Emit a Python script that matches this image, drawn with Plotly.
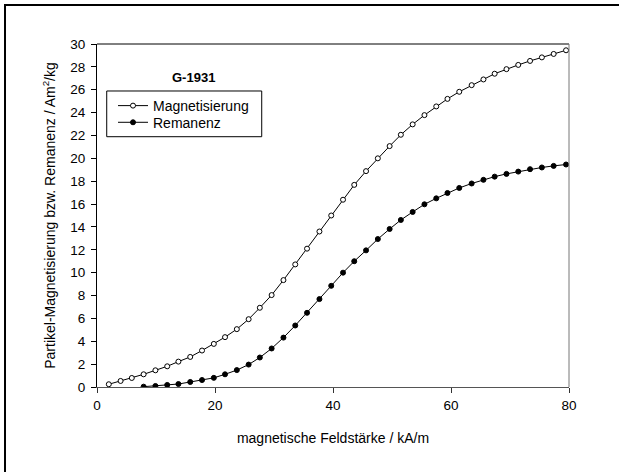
import plotly.graph_objects as go

# Field strength (kA/m) of the measured points
x_mag = [2.0, 4.0, 5.9, 7.9, 9.9, 11.9, 13.8, 15.8, 17.8, 19.8,
         21.7, 23.7, 25.7, 27.6, 29.6, 31.6, 33.6, 35.6, 37.7, 39.7,
         41.7, 43.6, 45.6, 47.6, 49.6, 51.5, 53.5, 55.5, 57.5, 59.4,
         61.4, 63.5, 65.5, 67.4, 69.4, 71.4, 73.4, 75.4, 77.4, 79.5]
y_mag = [0.24, 0.53, 0.79, 1.11, 1.46, 1.81, 2.22, 2.63, 3.19, 3.77,
         4.36, 5.06, 5.93, 6.93, 8.04, 9.35, 10.72, 12.1, 13.6, 15.0,
         16.38, 17.68, 18.88, 20.0, 21.07, 22.06, 22.97, 23.78, 24.54, 25.2,
         25.82, 26.4, 26.9, 27.4, 27.8, 28.17, 28.52, 28.83, 29.13, 29.45]

x_rem = [7.9, 9.9, 11.9, 13.8, 15.8, 17.8, 19.8,
         21.7, 23.7, 25.7, 27.6, 29.6, 31.6, 33.6, 35.6, 37.7, 39.7,
         41.7, 43.6, 45.6, 47.6, 49.6, 51.5, 53.5, 55.5, 57.5, 59.4,
         61.4, 63.5, 65.5, 67.4, 69.4, 71.4, 73.4, 75.4, 77.4, 79.5]
y_rem = [0.03, 0.09, 0.18, 0.26, 0.44, 0.61, 0.80,
         1.11, 1.48, 1.96, 2.58, 3.37, 4.32, 5.38, 6.49, 7.69, 8.85,
         10.0, 11.0, 11.95, 12.94, 13.82, 14.61, 15.31, 15.98, 16.5, 16.97,
         17.41, 17.8, 18.12, 18.4, 18.64, 18.84, 19.05, 19.2, 19.34, 19.46]

x_ticks = [0, 20, 40, 60, 80]
y_ticks = list(range(0, 31, 2))

FONT = "Liberation Sans, Arial, sans-serif"
LEG_FONT = dict(size=14)

fig = go.Figure()
fig.add_trace(go.Scatter(
    x=x_mag, y=y_mag, mode="lines+markers", name="Magnetisierung",
    legend="legend",
    line=dict(color="black", width=1),
    marker=dict(symbol="circle", size=5, color="white",
                line=dict(color="black", width=1)),
))
fig.add_trace(go.Scatter(
    x=x_rem, y=y_rem, mode="lines+markers", name="Remanenz",
    legend="legend2",
    line=dict(color="black", width=1),
    marker=dict(symbol="circle", size=5, color="black",
                line=dict(color="black", width=1)),
))

fig.update_layout(
    width=619, height=472,
    margin=dict(l=97, r=50, t=44, b=85, autoexpand=False),
    paper_bgcolor="white", plot_bgcolor="white",
    font=dict(family=FONT, size=13.5, color="black"),
    showlegend=True,
    legend=dict(
        x=0.0339, y=0.8192, xanchor="left", yanchor="middle",
        borderwidth=0, bgcolor="rgba(0,0,0,0)", font=LEG_FONT, itemwidth=30,
    ),
    legend2=dict(
        x=0.0339, y=0.7706, xanchor="left", yanchor="middle",
        borderwidth=0, bgcolor="rgba(0,0,0,0)", font=LEG_FONT, itemwidth=30,
    ),
    xaxis=dict(
        range=[0, 80], tickvals=x_ticks, ticktext=[str(v) for v in x_ticks],
        showgrid=False, zeroline=False, showline=True, linecolor="#555",
        linewidth=1, ticks="outside", ticklen=5, tickcolor="#333",
        automargin=False, ticklabelstandoff=1,
        title=dict(text="magnetische Feldstärke / kA/m", standoff=20,
                   font=dict(size=14)),
        tickfont=dict(size=13.5),
    ),
    yaxis=dict(
        range=[0, 30], tickvals=y_ticks, ticktext=[str(v) for v in y_ticks],
        showgrid=False, zeroline=False, showline=True, linecolor="black",
        linewidth=1, ticks="outside", ticklen=5, tickcolor="black",
        automargin=False, ticklabelstandoff=3,
        title=dict(text="Partikel-Magnetisierung bzw. Remanenz / Am<sup>2</sup>/kg",
                   standoff=11, font=dict(size=14)),
        tickfont=dict(size=13.5),
    ),
    shapes=[
        dict(type="line", xref="paper", yref="paper", x0=0, x1=1, y0=1, y1=1,
             line=dict(color="black", width=1)),
        dict(type="line", xref="paper", yref="paper", x0=1, x1=1, y0=0, y1=1,
             line=dict(color="#777", width=1)),
        dict(type="rect", xref="paper", yref="paper",
             x0=0.0206, x1=0.349, y0=0.7297, y1=0.863,
             line=dict(color="black", width=1)),
        # outer frame (top and left edges visible)
        dict(type="line", xref="paper", yref="paper",
             x0=-0.1949, x1=1.2, y0=1.1137, y1=1.1137,
             line=dict(color="black", width=2)),
        dict(type="line", xref="paper", yref="paper",
             x0=-0.1949, x1=-0.1949, y0=-0.3, y1=1.1166,
             line=dict(color="black", width=2)),
    ],
    annotations=[
        dict(text="<b>G-1931</b>", xref="paper", yref="paper",
             x=0.2034, y=0.9017, xanchor="center", yanchor="middle",
             showarrow=False, font=dict(size=13)),
    ],
)

fig.write_html("out.html", config={"displayModeBar": False},
               post_script="document.body.style.margin='0';")
